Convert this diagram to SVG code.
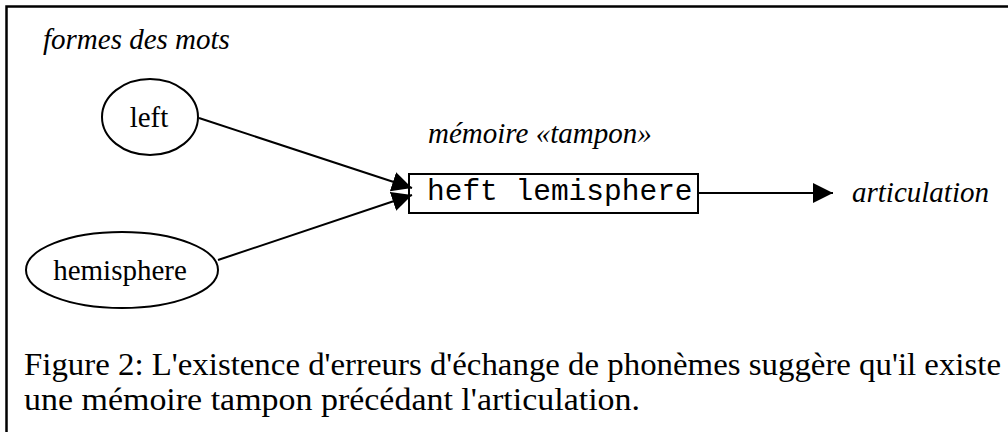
<svg xmlns="http://www.w3.org/2000/svg" width="1008" height="432" viewBox="0 0 1008 432">
<style>
.serif{font-family:"Liberation Serif","Times New Roman",serif;font-size:29px;fill:#000}
.it{font-style:italic}
.mono{font-family:"Liberation Mono","Courier New",monospace;font-size:29.5px;fill:#000}
.shape{fill:#fff;stroke:#000;stroke-width:2}
.conn{stroke:#000;stroke-width:2;fill:none}
.cap{font-size:31px}
</style>
<defs>
<marker id="ah" markerUnits="userSpaceOnUse" markerWidth="22" markerHeight="22" refX="20" refY="10" orient="auto">
<path d="M0,0 L20,10 L0,20 z" fill="#000"/>
</marker>
</defs>
<rect width="1008" height="432" fill="#fff"/>
<path d="M6.5,432 L6.5,6.5 L1008,6.5" fill="none" stroke="#000" stroke-width="2.5"/>
<text class="serif it" x="43" y="49">formes des mots</text>
<g id="left">
<ellipse class="shape" cx="150" cy="117" rx="48" ry="38"/>
<text class="serif" x="149" y="127" text-anchor="middle">left</text>
</g>
<g id="hemisphere">
<ellipse class="shape" cx="122" cy="270" rx="96" ry="38"/>
<text class="serif" x="120" y="280" text-anchor="middle">hemisphere</text>
</g>
<g id="buffer">
<text class="serif it" x="428" y="143">mémoire «tampon»</text>
<rect class="shape" x="409" y="174" width="289" height="39"/>
<text class="mono" x="427" y="200">heft lemisphere</text>
</g>
<g id="articulation">
<text class="serif it" x="852" y="202">articulation</text>
</g>
<g id="connectors">
<line class="conn" x1="199" y1="118" x2="412" y2="188" marker-end="url(#ah)"/>
<line class="conn" x1="218" y1="260" x2="412" y2="195" marker-end="url(#ah)"/>
<line class="conn" x1="698" y1="193" x2="833" y2="193" marker-end="url(#ah)"/>
</g>
<text class="serif cap" x="24" y="375" textLength="977" lengthAdjust="spacingAndGlyphs">Figure 2: L'existence d'erreurs d'échange de phonèmes suggère qu'il existe</text>
<text class="serif cap" x="24" y="410" textLength="616" lengthAdjust="spacingAndGlyphs">une mémoire tampon précédant l'articulation.</text>
</svg>
